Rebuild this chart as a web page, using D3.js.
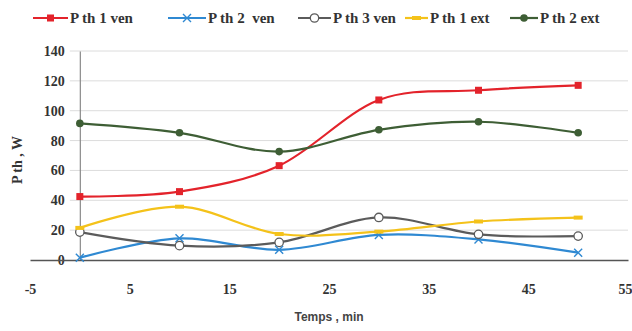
<!DOCTYPE html>
<html>
<head>
<meta charset="utf-8">
<script src="https://cdn.jsdelivr.net/npm/d3@7"></script>
<style>
  html, body { margin: 0; padding: 0; background: #fff; }
  svg { display: block; }
</style>
</head>
<body>
<svg id="chart" width="632" height="331"></svg>
<script>
// Time points (min)
const times = [0, 10, 20, 30, 40, 50];

// Thermal power series (W)
const pth1Ven = [42.5, 45.8, 63.2, 107.2, 113.7, 117.0];
const pth2Ven = [1.5, 14.5, 6.8, 16.8, 13.8, 4.9];
const pth3Ven = [18.7, 9.6, 11.8, 28.5, 17.2, 16.0];
const pth1Ext = [21.5, 35.7, 17.4, 19.0, 25.8, 28.4];
const pth2Ext = [91.5, 85.2, 72.6, 87.2, 92.6, 85.2];

const seriesNames = ["P th 1 ven", "P th 2  ven", "P th 3 ven", "P th 1 ext", "P th 2 ext"];
const xTicks = [-5, 5, 15, 25, 35, 45, 55];
const yTicks = [0, 20, 40, 60, 80, 100, 120, 140];

const series = [
  { name: seriesNames[0], values: pth1Ven, color: "#e3232b", marker: "square" },
  { name: seriesNames[1], values: pth2Ven, color: "#2f89d2", marker: "cross" },
  { name: seriesNames[2], values: pth3Ven, color: "#5b5b5b", marker: "ring" },
  { name: seriesNames[3], values: pth1Ext, color: "#f4c21a", marker: "dash" },
  { name: seriesNames[4], values: pth2Ext, color: "#3e5e35", marker: "dot" }
];

const SERIF = "Liberation Serif, Times New Roman, DejaVu Serif, Noto Serif, serif";

const svg = d3.select("#chart");

const x = d3.scaleLinear().domain([-5, 55]).range([30, 628]);
const y = d3.scaleLinear().domain([0, 140]).range([260, 51]);

// Horizontal gridlines
svg.append("g")
  .selectAll("line")
  .data(yTicks.filter(d => d > 0))
  .join("line")
  .attr("x1", x(0) - 10).attr("x2", 628)
  .attr("y1", d => y(d)).attr("y2", d => y(d))
  .attr("stroke", "#dcdcdc").attr("stroke-width", 1);

// Vertical axis through x = 0
const yAxis = d3.axisLeft(y).tickValues(yTicks).tickFormat(d => String(d)).tickSize(0).tickPadding(15);
const gy = svg.append("g").attr("transform", `translate(${x(0)},0)`).call(yAxis);
gy.attr("font-family", SERIF).attr("font-size", 14).attr("font-weight", "bold");
gy.select(".domain").attr("stroke", "#8a8a8a").attr("stroke-width", 1.2);
gy.selectAll("text").attr("fill", "#333");

// Horizontal axis through y = 0
const xAxis = d3.axisBottom(x).tickValues(xTicks).tickFormat(d => String(d)).tickSize(0).tickPadding(24);
const gx = svg.append("g").attr("transform", `translate(0,${y(0)})`).call(xAxis);
gx.attr("font-family", SERIF).attr("font-size", 14).attr("font-weight", "bold");
gx.select(".domain").attr("stroke", "#555").attr("stroke-width", 1.3);
gx.selectAll("text").attr("fill", "#333");
// keep the last label inside the frame
gx.selectAll(".tick").filter(d => d === 55).select("text")
  .attr("text-anchor", "end").attr("x", 4);

// Smoothed series lines
const line = d3.line()
  .x((d, i) => x(times[i]))
  .y(d => y(d))
  .curve(d3.curveCatmullRom.alpha(0));

function drawMarker(g, type, color) {
  if (type === "square") {
    g.append("rect").attr("x", -3.5).attr("y", -3.5).attr("width", 7).attr("height", 7).attr("fill", color);
  } else if (type === "cross") {
    g.append("path").attr("d", "M-4,-4L4,4M-4,4L4,-4").attr("stroke", color).attr("stroke-width", 1.4).attr("fill", "none");
  } else if (type === "ring") {
    g.append("circle").attr("r", 4.2).attr("fill", "#fff").attr("stroke", color).attr("stroke-width", 1.3);
  } else if (type === "dash") {
    g.append("rect").attr("x", -4.5).attr("y", -2).attr("width", 9).attr("height", 4).attr("fill", color);
  } else if (type === "dot") {
    g.append("circle").attr("r", 3.8).attr("fill", color);
  }
}

const plot = svg.append("g");
series.forEach(s => {
  plot.append("path")
    .attr("d", line(s.values))
    .attr("fill", "none")
    .attr("stroke", s.color)
    .attr("stroke-width", 2.2);
});
series.forEach(s => {
  s.values.forEach((v, i) => {
    const g = plot.append("g").attr("transform", `translate(${x(times[i])},${y(v)})`);
    drawMarker(g, s.marker, s.color);
  });
});

// Legend
const legendItems = [
  { lx: 33, tx: 70 },
  { lx: 168, tx: 208 },
  { lx: 298, tx: 333 },
  { lx: 405, tx: 430 },
  { lx: 510, tx: 540 }
];
const legend = svg.append("g")
  .attr("font-family", SERIF).attr("font-weight", "bold").attr("font-size", 15);
series.forEach((s, i) => {
  const it = legendItems[i];
  const lineEnd = it.tx - 2;
  legend.append("line")
    .attr("x1", it.lx).attr("x2", lineEnd)
    .attr("y1", 18).attr("y2", 18)
    .attr("stroke", s.color).attr("stroke-width", 2.2);
  const g = legend.append("g").attr("transform", `translate(${(it.lx + lineEnd) / 2},18)`);
  drawMarker(g, s.marker, s.color);
  legend.append("text")
    .attr("x", it.tx).attr("y", 23)
    .attr("fill", "#333")
    .attr("xml:space", "preserve")
    .style("white-space", "pre")
    .text(s.name);
});

// Axis titles
svg.append("text")
  .attr("transform", "translate(22,160) rotate(-90)")
  .attr("text-anchor", "middle")
  .attr("font-family", SERIF).attr("font-weight", "bold")
  .attr("font-size", 14).attr("fill", "#333")
  .text("P th , W");

svg.append("text")
  .attr("x", 329).attr("y", 321)
  .attr("text-anchor", "middle")
  .attr("font-family", "Liberation Sans, Arial, DejaVu Sans, sans-serif").attr("font-weight", "bold")
  .attr("font-size", 12).attr("fill", "#444")
  .text("Temps , min");
</script>
</body>
</html>
